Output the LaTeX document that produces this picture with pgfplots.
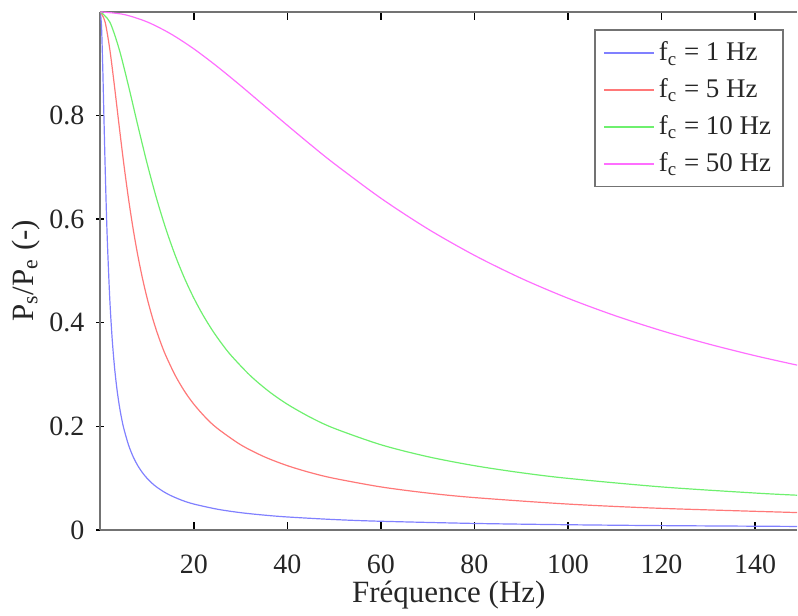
\documentclass[border={2.5pt 0pt 0pt 5.5pt}]{standalone}
\usepackage{fontspec}
\setmainfont{Liberation Serif}
\usepackage{pgfplots}
\pgfplotsset{compat=1.18}
\definecolor{cblue}{RGB}{128,128,255}
\definecolor{cred}{RGB}{255,120,120}
\definecolor{cgreen}{RGB}{110,240,110}
\definecolor{cmag}{RGB}{255,110,255}
\definecolor{txt}{RGB}{38,38,38}
\begin{document}
\begin{tikzpicture}
\begin{axis}[
  width=349pt, height=259.5pt, scale only axis,
  xmin=0, xmax=149, ymin=0, ymax=1,
  axis x line=box, axis y line=left,
  axis line style={-, black!55, line width=0.9pt},
  xtick={20,40,...,140}, ytick={0,0.2,0.4,0.6,0.8},
  tick style={black, line width=0.6pt},
  major tick length=4pt,
  /pgf/number format/assume math mode=true,
  tick label style={font=\fontsize{14}{16}\selectfont, text=txt},
  xticklabel style={yshift=-9pt},
  yticklabel style={xshift=-2.5pt},
  label style={font=\fontsize{15.5}{18}\selectfont, text=txt},
  xlabel={Fréquence (Hz)},
  ylabel={P\textsubscript{s}/P\textsubscript{e} (-)},
  xlabel shift=-3.5pt,
  ylabel shift=-2pt,
  legend style={at={(0.981,0.967)}, anchor=north east, draw=black!55, line width=0.8pt,
    font=\fontsize{13.5}{16}\selectfont, text=txt, row sep=3.5pt, inner xsep=4pt, inner ysep=4pt},
  legend cell align=left,
  legend image code/.code={\draw[#1, line width=1pt] (0pt,0pt) -- (25pt,0pt);},
  clip=true,
]
\addplot[cblue, line width=0.6pt, smooth] coordinates {
(0,1) (0.25,0.9701) (0.5,0.8944) (0.75,0.8) (1,0.7071) (1.25,0.6247) (1.5,0.5547) (2,0.4472)
(2.5,0.3714) (3,0.3162) (3.5,0.2747) (4,0.2425) (4.5,0.2169) (5,0.1961) (6,0.1644) (7,0.1414) (8,0.1240)
(9,0.1104) (10,0.0995) (11,0.0905) (12,0.0830) (13.5,0.0739) (15,0.0665) (17.5,0.0570) (20,0.0499)
(25,0.0400) (30,0.0333) (35,0.0286) (40,0.0250)
(50,0.0200) (60,0.0167) (80,0.0125) (100,0.0100) (120,0.0083) (149,0.0067)};
\addlegendentry{f\textsubscript{c} = 1 Hz}
\addplot[cred, line width=0.6pt, smooth] coordinates {
(0,1) (1,0.9806) (2,0.9285) (3,0.8575) (4,0.7809) (5,0.7071) (6,0.6402) (7,0.5812)
(8,0.5300) (9,0.4856) (10,0.4472) (11,0.4138) (12,0.3846) (13,0.3590) (14,0.3363) (16,0.2983) (18,0.2676)
(20,0.2425) (22.5,0.2169) (25,0.1961) (30,0.1644) (35,0.1414) (40,0.1240) (45,0.1104) (50,0.0995) (60,0.0830)
(70,0.0712) (80,0.0624) (100,0.0499) (120,0.0416) (149,0.0335)};
\addlegendentry{f\textsubscript{c} = 5 Hz}
\addplot[cgreen, line width=0.6pt, smooth] coordinates {
(0,1) (2,0.9806) (4,0.9285) (6,0.8575) (8,0.7809) (10,0.7071) (12,0.6402) (14,0.5812)
(16,0.5300) (18,0.4856) (20,0.4472) (22,0.4138) (24,0.3846) (26,0.3590) (28,0.3363) (32,0.2983) (36,0.2676)
(40,0.2425) (45,0.2169) (50,0.1961) (60,0.1644) (70,0.1414) (80,0.1240) (90,0.1104) (100,0.0995) (120,0.0830)
(140,0.0712) (149,0.0670)};
\addlegendentry{f\textsubscript{c} = 10 Hz}
\addplot[cmag, line width=0.6pt, smooth] coordinates {
(0,1) (5,0.9950) (10,0.9806) (15,0.9578) (20,0.9285) (25,0.8944) (30,0.8575) (35,0.8192)
(40,0.7809) (45,0.7433) (50,0.7071) (60,0.6402) (70,0.5812) (80,0.5300) (90,0.4856)
(100,0.4472) (110,0.4138) (120,0.3846) (130,0.3590) (140,0.3363) (149,0.3181)};
\addlegendentry{f\textsubscript{c} = 50 Hz}
\end{axis}
\end{tikzpicture}
\end{document}
